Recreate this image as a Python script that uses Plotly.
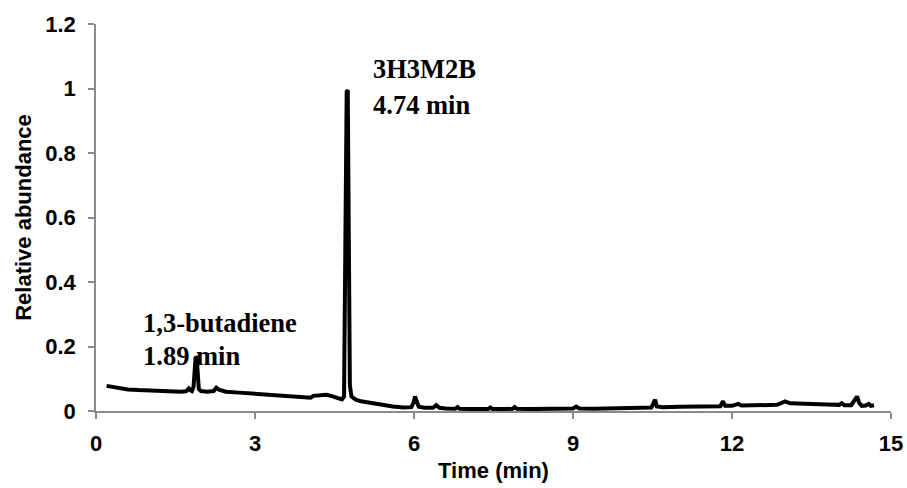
import plotly.graph_objects as go

time_min = [0.2, 0.4, 0.6, 0.8, 1.0, 1.2, 1.4, 1.6, 1.7, 1.75, 1.78, 1.81, 1.84, 1.86, 1.88, 1.90,
            1.92, 1.94, 1.98, 2.1, 2.22, 2.27, 2.32, 2.45, 2.7, 3.0, 3.3, 3.6, 3.9, 4.05, 4.1,
            4.25, 4.35, 4.45, 4.55, 4.64, 4.68, 4.71, 4.73, 4.75, 4.77, 4.79, 4.82, 4.9, 5.0,
            5.2, 5.4, 5.6, 5.8, 5.95, 5.99, 6.02, 6.05, 6.09, 6.2, 6.36, 6.42, 6.48, 6.6, 6.78,
            6.82, 6.86, 7.1, 7.4, 7.44, 7.48, 7.7, 7.86, 7.9, 7.94, 8.2, 8.5, 8.8, 9.0, 9.06,
            9.12, 9.4, 9.8, 10.2, 10.48, 10.52, 10.55, 10.58, 10.7, 11.0, 11.4, 11.78, 11.83,
            11.87, 12.0, 12.12, 12.18, 12.4, 12.6, 12.85, 12.92, 13.0, 13.1, 13.4, 13.8, 14.02,
            14.07, 14.12, 14.25, 14.32, 14.36, 14.4, 14.45, 14.52, 14.58, 14.62, 14.68]
abundance = [0.078, 0.071, 0.067, 0.065, 0.063, 0.062, 0.061, 0.060, 0.061, 0.070, 0.064, 0.062,
             0.075, 0.13, 0.168, 0.165, 0.10, 0.068, 0.062, 0.060, 0.062, 0.072, 0.066, 0.060,
             0.057, 0.054, 0.050, 0.047, 0.043, 0.041, 0.047, 0.048, 0.050, 0.046, 0.041, 0.036,
             0.045, 0.6, 0.99, 0.995, 0.6, 0.08, 0.045, 0.035, 0.030, 0.024, 0.017, 0.014, 0.011,
             0.012, 0.025, 0.045, 0.03, 0.013, 0.010, 0.010, 0.018, 0.010, 0.008, 0.007, 0.012,
             0.007, 0.006, 0.006, 0.011, 0.006, 0.006, 0.007, 0.012, 0.007, 0.006, 0.006, 0.007,
             0.008, 0.014, 0.008, 0.007, 0.008, 0.010, 0.011, 0.025, 0.035, 0.014, 0.012, 0.013,
             0.014, 0.015, 0.030, 0.016, 0.016, 0.022, 0.017, 0.018, 0.018, 0.019, 0.024, 0.030,
             0.024, 0.021, 0.020, 0.019, 0.024, 0.018, 0.018, 0.035, 0.045, 0.025, 0.016, 0.017,
             0.022, 0.016, 0.018]

x_ticks = [0, 3, 6, 9, 12, 15]
y_ticks = [0, 0.2, 0.4, 0.6, 0.8, 1.0, 1.2]
y_tick_labels = ["0", "0.2", "0.4", "0.6", "0.8", "1", "1.2"]

peak_labels = [
    {"x": 0.85, "y": 0.273, "text": "1,3-butadiene"},
    {"x": 0.85, "y": 0.172, "text": "1.89 min"},
    {"x": 5.19, "y": 1.06, "text": "3H3M2B"},
    {"x": 5.19, "y": 0.948, "text": "4.74 min"},
]

fig = go.Figure()
fig.add_trace(go.Scatter(x=time_min, y=abundance, mode="lines",
                         line=dict(color="black", width=4), showlegend=False))

for a in peak_labels:
    fig.add_annotation(x=a["x"], y=a["y"], text=a["text"], showarrow=False,
                       xanchor="left", yanchor="middle",
                       font=dict(family="Liberation Serif, Times New Roman, serif",
                                 size=26.5, color="black", weight="bold"))

axis_font = dict(family="Liberation Sans, Arial, sans-serif", size=22, color="black", weight="bold")

fig.update_layout(
    width=907, height=488,
    margin=dict(l=96, r=16, t=24, b=77),
    paper_bgcolor="white", plot_bgcolor="white",
    xaxis=dict(range=[0, 15], tickvals=x_ticks, ticks="outside", ticklen=6, tickcolor="#8a8a8a",
               tickwidth=1.5, showline=True, linecolor="#8a8a8a", linewidth=1.5, showgrid=False,
               zeroline=False, tickfont=axis_font, ticklabelstandoff=6, automargin=False,
               title=dict(text="Time (min)", font=axis_font, standoff=7)),
    yaxis=dict(range=[0, 1.2], tickvals=y_ticks, ticktext=y_tick_labels, ticks="outside",
               ticklen=6, tickcolor="#8a8a8a", tickwidth=1.5, showline=True, linecolor="#8a8a8a",
               linewidth=1.5, showgrid=False, zeroline=False, tickfont=axis_font,
               ticklabelstandoff=8, automargin=False,
               title=dict(text="Relative abundance", font=axis_font, standoff=8)),
)

fig.write_html("out.html", config={"displayModeBar": False},
               post_script="document.body.style.margin='0';")
